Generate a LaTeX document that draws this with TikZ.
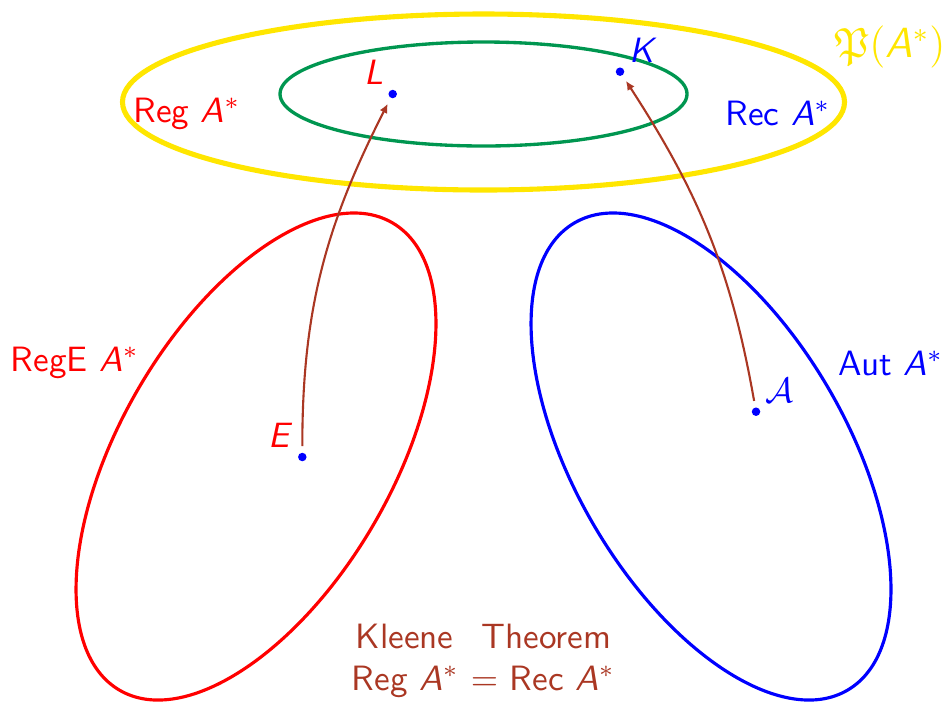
\documentclass[tikz,border=0pt]{standalone}
\usepackage{amssymb}
\usetikzlibrary{arrows.meta}
\definecolor{pyellow}{RGB}{255,230,0}
\definecolor{recgreen}{RGB}{0,150,80}
\definecolor{kbrown}{RGB}{170,55,35}
\newcommand{\vr}[1]{\textit{#1}}
\newcommand{\Astar}{\textit{A}$^*$}
\tikzset{
  elem/.style={circle,fill=blue,inner sep=0pt,minimum size=0.085cm},
  kleene/.style={->,>={Latex[length=2.6pt,width=2.4pt]},draw=kbrown,line width=0.6pt,shorten <=0.06cm,shorten >=0.06cm},
  every node/.append style={font=\sffamily}
}
\begin{document}
\begin{tikzpicture}
      \useasboundingbox (0,0) rectangle (9.51,7.03);
      \def\tilt{59.7}
      \coordinate (Cp) at (4.835,6.01);
      \coordinate (Cr) at (2.56,2.465);
      \coordinate (Ca) at (7.11,2.465);

      % SETS
      \draw[pyellow, line width=1.45pt] (Cp) ellipse (3.61 and 0.88);
      \draw[recgreen, line width=0.95pt] (4.835,6.09) ellipse (2.035 and 0.52);
      \draw[red, line width=0.9pt, rotate around={\tilt:(Cr)}] (Cr) ellipse (2.706 and 1.358);
      \draw[blue, line width=0.9pt, rotate around={-\tilt:(Ca)}] (Ca) ellipse (2.706 and 1.358);

      % NAMES
      \node[pyellow, font=\sffamily\large] (pow) at (8.9,6.56) {$\mathfrak{P}($\Astar$)$};
      \node[red] (reg) at (1.87,5.89) {Reg \Astar};
      \node[blue] (rec) at (7.78,5.9) {Rec \Astar};
      \node[red] (rege) at (0.75,3.4) {RegE \Astar};
      \node[blue] (aut) at (8.91,3.4) {Aut \Astar};
      \node[kbrown, align=center] (thm) at (4.835,0.42) {Kleene\hspace{0.8em}Theorem\\Reg \Astar{} $=$ Rec \Astar};

      % ELEMENTS
      \node[elem, label={[red,inner sep=1.5pt]above left:\vr{L}}] (L) at (3.927,6.09) {};
      \node[elem, label={[blue,inner sep=1.5pt]above right:\vr{K}}] (K) at (6.2,6.313) {};
      \node[elem, label={[red,inner sep=1.5pt]above left:\vr{E}}] (E) at (3.023,2.46) {};
      \node[elem, label={[blue,inner sep=1.5pt]above right:$\mathcal{A}$}] (A) at (7.56,2.913) {};

      % MAPS
      \draw[kleene] (E) to[out=90, in=243] (L);
      \draw[kleene] (A) to[out=100, in=-57] (K);
    \end{tikzpicture}
\end{document}
